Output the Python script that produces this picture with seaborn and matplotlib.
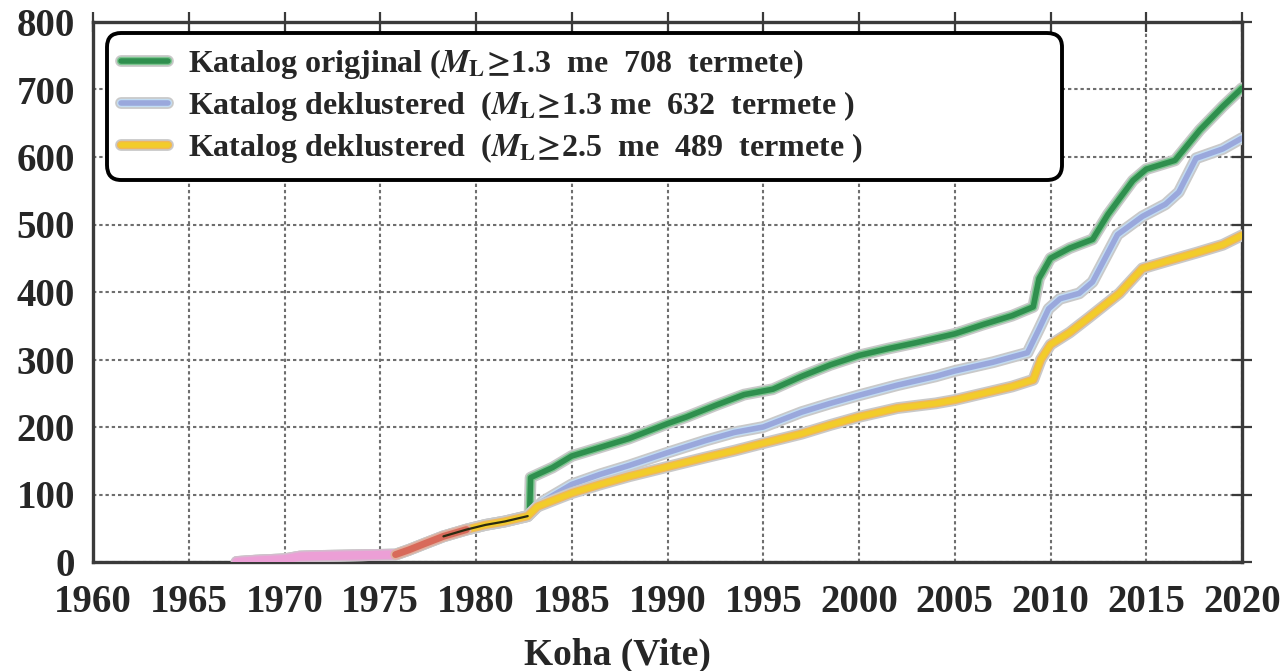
import matplotlib
matplotlib.use("Agg")
import matplotlib.pyplot as plt
import matplotlib.patheffects as pe
import pandas as pd
import seaborn as sns

# Common start of the three cumulative curves (years, cumulative count)
early_years = [1967.5, 1968.5, 1970.0, 1970.8, 1972.0, 1974.0, 1975.8,
               1976.5, 1977.3, 1978.3, 1979.5, 1980.5, 1981.5, 1982.7]
early_counts = [0, 2, 4, 8, 9, 10, 11, 18, 27, 38, 48, 55, 60, 68]

# Original catalogue, ML >= 1.3 (708 events)
orig_years = [1982.8, 1982.85, 1984.0, 1985.0, 1986.5, 1988.0, 1990.0, 1991.0,
              1992.5, 1994.0, 1995.5, 1997.0, 1998.5, 2000.0, 2001.5, 2003.0,
              2005.0, 2006.5, 2008.0, 2009.1, 2009.4, 2010.0, 2011.0, 2012.2,
              2013.0, 2014.3, 2015.0, 2016.5, 2017.8, 2019.0, 2020.0]
orig_counts = [72, 125, 140, 157, 170, 183, 205, 215, 232, 248, 256, 275, 292,
               306, 316, 325, 338, 352, 365, 378, 420, 450, 465, 478, 515, 565,
               582, 595, 640, 675, 702]

# Declustered catalogue, ML >= 1.3 (632 events)
decl13_years = [1983.5, 1985.0, 1986.5, 1988.0, 1990.0, 1992.0, 1993.5, 1995.0,
                1997.0, 1998.5, 2000.0, 2002.0, 2004.0, 2005.0, 2007.0, 2008.8,
                2009.4, 2009.9, 2010.5, 2011.5, 2012.2, 2013.5, 2014.8, 2016.0,
                2016.7, 2017.6, 2019.0, 2020.0]
decl13_counts = [90, 115, 130, 143, 162, 180, 192, 200, 222, 235, 247, 262, 275,
                 283, 296, 310, 345, 375, 390, 398, 415, 485, 512, 530, 548, 598,
                 612, 628]

# Declustered catalogue, ML >= 2.5 (489 events)
decl25_years = [1983.2, 1985.0, 1986.5, 1988.0, 1990.0, 1992.0, 1993.5, 1995.0,
                1997.0, 1998.5, 2000.0, 2002.0, 2004.0, 2005.0, 2006.5, 2008.0,
                2009.1, 2009.5, 2010.0, 2011.0, 2012.0, 2013.6, 2014.8, 2016.0,
                2017.6, 2019.0, 2020.0]
decl25_counts = [82, 102, 115, 127, 141, 155, 165, 176, 190, 203, 215, 228, 235,
                 240, 250, 260, 270, 300, 322, 340, 362, 398, 435, 445, 458, 470,
                 484]

labels = [
    r"Katalog origjinal ($M_{\mathrm{L}}\!\geq\!$1.3  me  708  termete)",
    r"Katalog deklustered  ($M_{\mathrm{L}}\!\geq\!$1.3 me  632  termete )",
    r"Katalog deklustered  ($M_{\mathrm{L}}\!\geq\!$2.5  me  489  termete )",
]

sns.set_theme(style="white")
plt.rcParams["font.family"] = ["Liberation Serif", "DejaVu Serif"]
plt.rcParams["font.weight"] = "bold"
plt.rcParams["mathtext.fontset"] = "stix"

fig = plt.figure(figsize=(12.86, 6.71), dpi=100)
ax = fig.add_axes([93 / 1286, (671 - 562) / 671, 1149 / 1286, 540 / 671])


def series(years, counts):
    return pd.DataFrame({"Viti": early_years + years,
                         "Termete": early_counts + counts})


curves = [
    (series(orig_years, orig_counts), "#2f8f4e", "#7cc48f", labels[0]),
    (series(decl13_years, decl13_counts), "#9aa8dc", "#c2dcf2", labels[1]),
    (series(decl25_years, decl25_counts), "#f2cc2a", "#f0b85a", labels[2]),
]

for df, core, edge, lab in curves:
    sns.lineplot(data=df, x="Viti", y="Termete", ax=ax, color=core, lw=4.0,
                 sort=False, estimator=None, label=lab, zorder=3,
                 path_effects=[pe.Stroke(linewidth=8.5, foreground="#c9c9c9"),
                               pe.Stroke(linewidth=6.0, foreground=edge),
                               pe.Normal()])

# colour of the early low-activity segment
early = pd.DataFrame({"Viti": early_years, "Termete": early_counts})
seg_pink = early[early["Viti"] <= 1975.8]
seg_red = early[(early["Viti"] >= 1975.8) & (early["Viti"] <= 1979.5)]
ax.plot(seg_pink["Viti"], seg_pink["Termete"], color="#ec9fd6", lw=6, zorder=4,
        solid_capstyle="round",
        path_effects=[pe.Stroke(linewidth=8, foreground="#d9b6d0"), pe.Normal()])
ax.plot(seg_red["Viti"], seg_red["Termete"], color="#d86a5a", lw=5, zorder=4,
        path_effects=[pe.Stroke(linewidth=7.5, foreground="#e0b0a0"), pe.Normal()])
ax.plot(early["Viti"][9:], early["Termete"][9:], color="#2a2a10", lw=1.6, zorder=5)

ax.set_xlim(1960, 2020)
ax.set_ylim(0, 800)
ax.set_xticks(range(1960, 2021, 5))
ax.set_yticks(range(0, 801, 100))
ax.set_xlabel("")
ax.set_ylabel("")

ax.set_axisbelow(True)
ax.grid(True, linestyle=(0, (1.6, 1.4)), color="#6e6e6e", lw=1.5)

for sp in ax.spines.values():
    sp.set_linewidth(2.4)
    sp.set_color("#3a3a3a")

ax.tick_params(axis="both", direction="inout", length=14, width=1.6,
               color="#3a3a3a", top=True, right=True, labelsize=28)
ax.tick_params(axis="x", pad=9)
ax.tick_params(axis="y", pad=6)
for t in ax.get_xticklabels() + ax.get_yticklabels():
    t.set_fontweight("bold")

leg = ax.legend(loc="upper left", bbox_to_anchor=(0.0122, 0.70, 0.831, 0.28),
                mode="expand", borderaxespad=0, frameon=True, fancybox=True,
                framealpha=1, edgecolor="black", handlelength=1.45,
                handletextpad=0.65, borderpad=0.45, labelspacing=0.25,
                prop={"size": 23, "weight": "bold"})
frame = leg.get_frame()
frame.set_linewidth(2.8)
frame.set_boxstyle("round", pad=0, rounding_size=0.45)

fig.text(617 / 1286, 1 - 665 / 671, "Koha (Vite)", ha="center", va="baseline",
         fontsize=27, fontweight="bold")

fig.savefig("out.png", dpi=100)
